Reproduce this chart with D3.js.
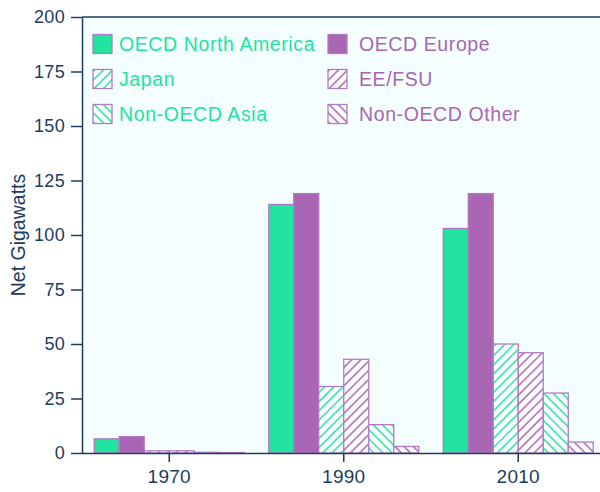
<!DOCTYPE html>
<html>
<head>
<meta charset="utf-8">
<script src="https://cdn.jsdelivr.net/npm/d3@7"></script>
<style>
  html, body { margin: 0; padding: 0; background: #ffffff; }
  svg { display: block; font-family: "Liberation Sans", Arial, sans-serif; }
</style>
</head>
<body>
<svg id="chart" width="600" height="492"></svg>
<script>
// Net generating capacity by region, in gigawatts
const years = ["1970", "1990", "2010"];
const regions = ["OECD North America", "OECD Europe", "Japan", "EE/FSU", "Non-OECD Asia", "Non-OECD Other"];
const oecdNorthAmerica = [6.5, 114, 103];
const oecdEurope = [7.5, 119, 119];
const japan = [1, 30.5, 50];
const eeFsu = [1, 43, 46];
const nonOecdAsia = [0.3, 13, 27.5];
const nonOecdOther = [0.2, 3, 5];
const yTicks = [0, 25, 50, 75, 100, 125, 150, 175, 200];

const seriesValues = [oecdNorthAmerica, oecdEurope, japan, eeFsu, nonOecdAsia, nonOecdOther];

const green = "#22e3a0";
const purple = "#a866b5";
const edge = "#b27ac4";
const ink = "#1d3d5e";

const fills = ["green", "purple", "hatch-up-green", "hatch-up-purple", "hatch-down-green", "hatch-down-purple"];
const textColors = [green, purple, green, purple, green, purple];

const svg = d3.select("#chart");
const W = 600;
const plotLeft = 82, plotTop = 17, plotBottom = 453;

// hatch patterns
const defs = svg.append("defs");
function hatch(id, color, angle) {
  const p = defs.append("pattern")
    .attr("id", id)
    .attr("patternUnits", "userSpaceOnUse")
    .attr("width", 6.5).attr("height", 6.5)
    .attr("patternTransform", `rotate(${angle})`);
  p.append("rect").attr("width", 6.5).attr("height", 6.5).attr("fill", "#ffffff");
  p.append("line").attr("x1", 1).attr("y1", 0).attr("x2", 1).attr("y2", 6.5)
    .attr("stroke", color).attr("stroke-width", 1.5);
}
hatch("hatch-up-green", green, 45);
hatch("hatch-up-purple", purple, 45);
hatch("hatch-down-green", green, -45);
hatch("hatch-down-purple", purple, -45);

function fillFor(i) {
  const f = fills[i];
  if (f === "green") return green;
  if (f === "purple") return purple;
  return `url(#${f})`;
}

const x = d3.scaleBand().domain(years).range([plotLeft, 605.5]).paddingInner(0).paddingOuter(0);
const xInner = d3.scaleBand().domain(d3.range(regions.length)).range([0, 150]);
const y = d3.scaleLinear().domain([0, 200]).range([plotBottom, plotTop]);

// plot background
svg.append("rect")
  .attr("x", plotLeft).attr("y", plotTop)
  .attr("width", W - plotLeft).attr("height", plotBottom - plotTop)
  .attr("fill", "#f5fefe");

// bars
const groups = svg.append("g").selectAll("g")
  .data(years)
  .join("g")
  .attr("transform", d => `translate(${x(d) + x.bandwidth() / 2 - 75},0)`);

groups.selectAll("rect")
  .data((yr, gi) => seriesValues.map((vals, si) => ({ si, v: vals[gi] })))
  .join("rect")
  .attr("x", d => xInner(d.si))
  .attr("width", xInner.bandwidth())
  .attr("y", d => y(d.v))
  .attr("height", d => plotBottom - y(d.v))
  .attr("fill", d => fillFor(d.si))
  .attr("stroke", edge)
  .attr("stroke-width", 1.3);

// top border
svg.append("line")
  .attr("x1", plotLeft).attr("x2", W)
  .attr("y1", plotTop).attr("y2", plotTop)
  .attr("stroke", ink).attr("stroke-width", 1.5);

// y axis
const yAxis = svg.append("g")
  .attr("transform", `translate(${plotLeft},0)`)
  .call(d3.axisLeft(y).tickValues(yTicks).tickSize(11).tickPadding(6).tickSizeOuter(0));
yAxis.select(".domain").attr("stroke", ink).attr("stroke-width", 1.5);
yAxis.selectAll(".tick line").attr("stroke", ink).attr("stroke-width", 1.5);
yAxis.selectAll(".tick text")
  .attr("fill", ink)
  .style("font-size", "18px")
  .style("letter-spacing", "0.3px")
  .style("font-family", "'Liberation Sans', Arial, sans-serif");

// x axis
const xAxis = svg.append("g")
  .attr("transform", `translate(0,${plotBottom})`)
  .call(d3.axisBottom(x).tickSize(9).tickPadding(8).tickSizeOuter(0));
xAxis.select(".domain").attr("d", `M${plotLeft},0.5H${W}`).attr("stroke", ink).attr("stroke-width", 1.5);
xAxis.selectAll(".tick line").attr("stroke", ink).attr("stroke-width", 1.5);
xAxis.selectAll(".tick text")
  .attr("fill", ink)
  .style("font-size", "19px")
  .style("letter-spacing", "0.3px")
  .style("font-family", "'Liberation Sans', Arial, sans-serif");

// y axis title
svg.append("text")
  .attr("transform", "translate(25,235) rotate(-90)")
  .attr("text-anchor", "middle")
  .attr("fill", ink)
  .style("font-size", "19.5px")
  .text("Net Gigawatts");

// legend
const legend = svg.append("g");
const legendItems = regions.map((name, i) => ({
  name, i,
  col: i % 2,
  row: Math.floor(i / 2)
}));
const colX = [93, 328];
const rowY = [44, 79, 114];
const item = legend.selectAll("g")
  .data(legendItems)
  .join("g")
  .attr("transform", d => `translate(${colX[d.col]},${rowY[d.row]})`);
item.append("rect")
  .attr("x", 0).attr("y", -9.5)
  .attr("width", 19).attr("height", 19)
  .attr("fill", d => fillFor(d.i))
  .attr("stroke", edge)
  .attr("stroke-width", 1.3);
item.append("text")
  .attr("x", d => d.col === 0 ? 26 : 31)
  .attr("y", 7)
  .attr("fill", d => textColors[d.i])
  .style("font-size", "19.5px")
  .style("letter-spacing", "0.6px")
  .text(d => d.name);
</script>
</body>
</html>
